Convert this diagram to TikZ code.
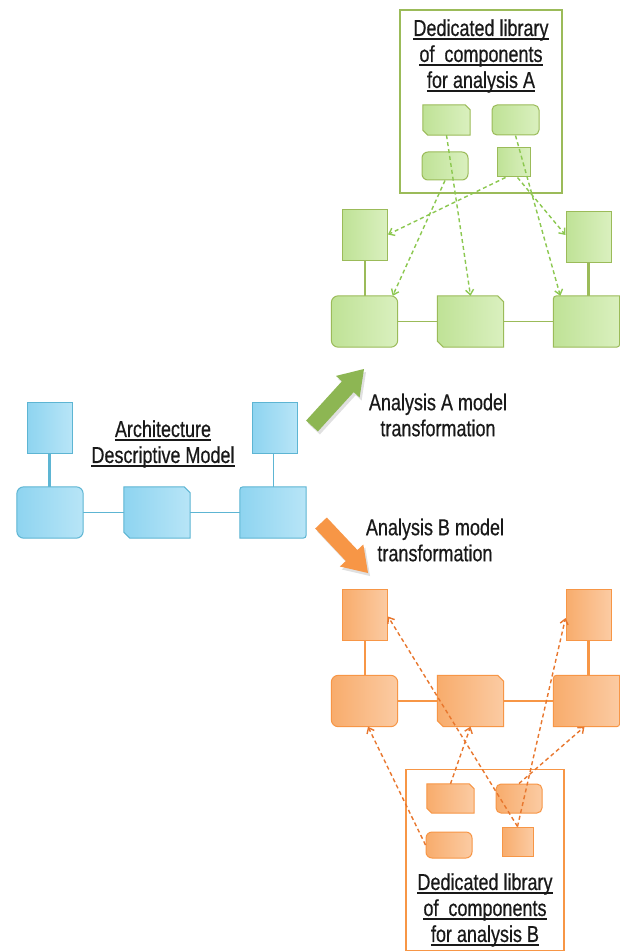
\documentclass[tikz,border=0pt]{standalone}
\usepackage{fontspec}
\usepackage{graphicx}
\setmainfont{Liberation Sans}[FakeBold=0.6]
\usetikzlibrary{calc,arrows.meta}
\definecolor{bluD}{HTML}{5DB5D3}
\definecolor{bluA}{HTML}{8ED4F0}
\definecolor{bluB}{HTML}{B8E5F7}
\definecolor{grnD}{HTML}{9BBB59}
\definecolor{grnA}{HTML}{BFE296}
\definecolor{grnB}{HTML}{DAF0BF}
\definecolor{grnL}{HTML}{8CC850}
\definecolor{grnArrow}{HTML}{8DB653}
\definecolor{orgD}{HTML}{F79646}
\definecolor{orgA}{HTML}{F8AC6C}
\definecolor{orgB}{HTML}{FBCBA3}
\definecolor{orgL}{HTML}{E8772E}
\definecolor{orgArrow}{HTML}{F79646}
\newcommand\ulx[1]{\setbox0=\hbox{#1}\leavevmode\rlap{\raisebox{-3pt}{\rule{\wd0}{1.5pt}}}\box0}
\newcommand\tl[1]{\scalebox{1}[1.28]{#1}}
\newcommand\tlu[1]{\scalebox{1}[1.28]{\ulx{#1}}}
% snipped corners (north east, south west)
\newcommand\snipbox[3]{\path[#2] (#1.north west) -- ($(#1.north east)+(-#3,0)$) -- ($(#1.north east)+(0,#3)$) -- (#1.south east) -- ($(#1.south west)+(#3,0)$) -- ($(#1.south west)+(0,-#3)$) -- cycle;}
% rounded corners (north west, south east)
\newcommand\rdiag[3]{\path[#2] ($(#1.north west)+(0,#3)$) .. controls (#1.north west) .. ($(#1.north west)+(#3,0)$) -- (#1.north east) -- ($(#1.south east)+(0,-#3)$) .. controls (#1.south east) .. ($(#1.south east)+(-#3,0)$) -- (#1.south west) -- cycle;}
\begin{document}
\begin{tikzpicture}[x=1pt,y=-1pt,
  sq/.style={rectangle,inner sep=0pt,minimum width=45pt,minimum height=51pt},
  bx/.style={rectangle,inner sep=0pt,minimum width=66pt,minimum height=51pt},
  comp/.style={rectangle,inner sep=0pt,minimum width=#1},
  blu/.style={draw=bluD,line width=1pt,left color=bluA,right color=bluB},
  grn/.style={draw=grnD,line width=1pt,left color=grnA,right color=grnB},
  org/.style={draw=orgD,line width=1pt,left color=orgA,right color=orgB},
  txt/.style={align=center,inner sep=0pt,text=black!90,font=\fontsize{18}{26}\selectfont},
  dashA/.style={grnL,line width=1.4pt,dash pattern=on 4pt off 3pt,-{Straight Barb[length=5pt,width=8pt]}},
  dashB/.style={orgL,line width=1.4pt,dash pattern=on 4pt off 3pt,-{Straight Barb[length=5pt,width=8pt]}},
  libbox/.style={rectangle,inner sep=0pt,fill=white}
]
\useasboundingbox (0,0) rectangle (620,952);
\fill[white] (0,0) rectangle (620,952);

% ---------------- Blue architecture model ----------------
\node[sq,blu] (bLS) at (49.5,427.5) {};
\node[sq,blu] (bRS) at (274.5,427.5) {};
\draw[bluD,line width=2.5pt] (bLS.south) -- (bLS.south |- 0,487);
\draw[bluD,line width=1pt] ([xshift=-1.5pt]bRS.south) -- ([xshift=-1.5pt]bRS.south |- 0,487);
\node[bx] (bL) at (50,512.5) {};
\node[bx] (bM) at (157,512.5) {};
\node[bx] (bR) at (273,512.5) {};
\draw[bluD,line width=1.3pt] (bL) -- (bM);
\draw[bluD,line width=1.3pt] (bM) -- (bR);
\path[blu,rounded corners=7pt] (bL.north west) rectangle (bL.south east);
\snipbox{bM}{blu}{6}
\rdiag{bR}{blu}{7}
\node[txt] (tArch) at (163,444) {\tlu{Architecture}\\\tlu{Descriptive Model}};

% ---------------- transformation arrows ----------------
\fill[black!12] (308.1,423.6) -- (343.9,384.3) -- (338.0,378.9) -- (366,372) -- (361.6,400.5) -- (355.7,395.1) -- (319.9,434.4) -- cycle;
\fill[grnArrow] (306.1,420.6) -- (341.9,381.3) -- (336.0,375.9) -- (364,369) -- (359.6,397.5) -- (353.7,392.1) -- (317.9,431.4) -- cycle;
\node[txt] (tA) at (438,415) {\tl{Analysis A model}\\\tl{transformation}};

\fill[black!12] (317.2,531.5) -- (347.8,564.0) -- (341.9,569.5) -- (370,576) -- (365.3,547.5) -- (359.4,553.0) -- (328.8,520.5) -- cycle;
\fill[orgArrow] (315.2,528.5) -- (345.8,561.0) -- (339.9,566.5) -- (368,573) -- (363.3,544.5) -- (357.4,550.0) -- (326.8,517.5) -- cycle;
\node[txt] (tB) at (435,540) {\tl{Analysis B model}\\\tl{transformation}};

% ---------------- Green model (analysis A) ----------------
\node[sq,grn] (gLS) at (365,234.5) {};
\node[sq,grn] (gRS) at (588.5,237) {};
\node[bx] (gL) at (364.5,321.5) {};
\node[bx] (gM) at (470.5,321.5) {};
\node[bx] (gR) at (586.5,321.5) {};
\draw[grnD,line width=1.5pt] (gLS.south) -- (gLS.south |- gL.north);
\draw[grnD,line width=3pt] (gRS.south) -- (gRS.south |- gR.north);
\draw[grnD,line width=1.5pt] (gL) -- (gM);
\draw[grnD,line width=1.5pt] (gM) -- (gR);
\path[grn,rounded corners=7pt] (gL.north west) rectangle (gL.south east);
\snipbox{gM}{grn}{6}
\rdiag{gR}{grn}{7}

% library A
\node[libbox,draw=grnD,line width=2pt,minimum width=162pt,minimum height=183pt] (libA) at (481,101.5) {};
\node[txt] (libAt) at (481,56) {\tlu{Dedicated library}\\\tlu{of~ components}\\\tlu{for analysis A}};
\node[comp=47pt,minimum height=30pt] (aTL) at (446.5,120) {};
\snipbox{aTL}{grn}{5}
\node[comp=47pt,minimum height=30pt,grn,rounded corners=5pt] (aTR) at (515.5,120) {};
\node[comp=46pt,minimum height=28pt,grn,rounded corners=6pt] (aBL) at (445,166) {};
\node[comp=33pt,minimum height=29pt,grn] (aBR) at (513.5,162.5) {};

\draw[dashA] (aTL.south) -- (gM.north);
\draw[dashA] (aBL.south) -- ([xshift=-5pt]gL.north east);
\draw[dashA] ([xshift=-8pt]aBR.south) -- (gLS.east);
\draw[dashA] (aTR.south) -- ([xshift=7pt]gR.north west);
\draw[dashA] ([xshift=4pt]aBR.south) -- ([yshift=2pt]gRS.west);

% ---------------- Orange model (analysis B) ----------------
\node[sq,org] (oLS) at (365,614.5) {};
\node[sq,org] (oRS) at (588.5,615) {};
\node[bx] (oL) at (364.5,701) {};
\node[bx] (oM) at (470.5,701) {};
\node[bx] (oR) at (586.5,701) {};
\draw[orgD,line width=1.5pt] (oLS.south) -- (oLS.south |- oL.north);
\draw[orgD,line width=3pt] (oRS.south) -- (oRS.south |- oR.north);
\draw[orgD,line width=1.5pt] (oL) -- (oM);
\draw[orgD,line width=1.5pt] (oM) -- (oR);
\path[org,rounded corners=7pt] (oL.north west) rectangle (oL.south east);
\snipbox{oM}{org}{6}
\rdiag{oR}{org}{7}

% library B
\node[libbox,draw=orgD,line width=1.5pt,minimum width=158pt,minimum height=181pt] (libB) at (485,860) {};
\node[txt] (libBt) at (485,910) {\tlu{Dedicated library}\\\tlu{of~ components}\\\tlu{for analysis B}};
\node[comp=47pt,minimum height=29pt] (bbTL) at (450.5,798.5) {};
\snipbox{bbTL}{org}{5}
\node[comp=46pt,minimum height=29pt,org,rounded corners=5pt] (bbTR) at (519,798.5) {};
\node[comp=46pt,minimum height=26pt,org,rounded corners=6pt] (bbBL) at (449,845) {};
\node[comp=31pt,minimum height=29pt,org] (bbBR) at (517.5,841.5) {};

\draw[dashB] (bbBL.west) -- ([xshift=3.5pt]oL.south);
\draw[dashB] (bbTL.north) -- (oM.south);
\draw[dashB] (bbBR.north) -- ([yshift=-2pt]oLS.east);
\draw[dashB] (bbBR.north) -- ([yshift=-3pt]oRS.west);
\draw[dashB] (bbTR.north) -- ([xshift=-2pt]oR.south);
\end{tikzpicture}
\end{document}
